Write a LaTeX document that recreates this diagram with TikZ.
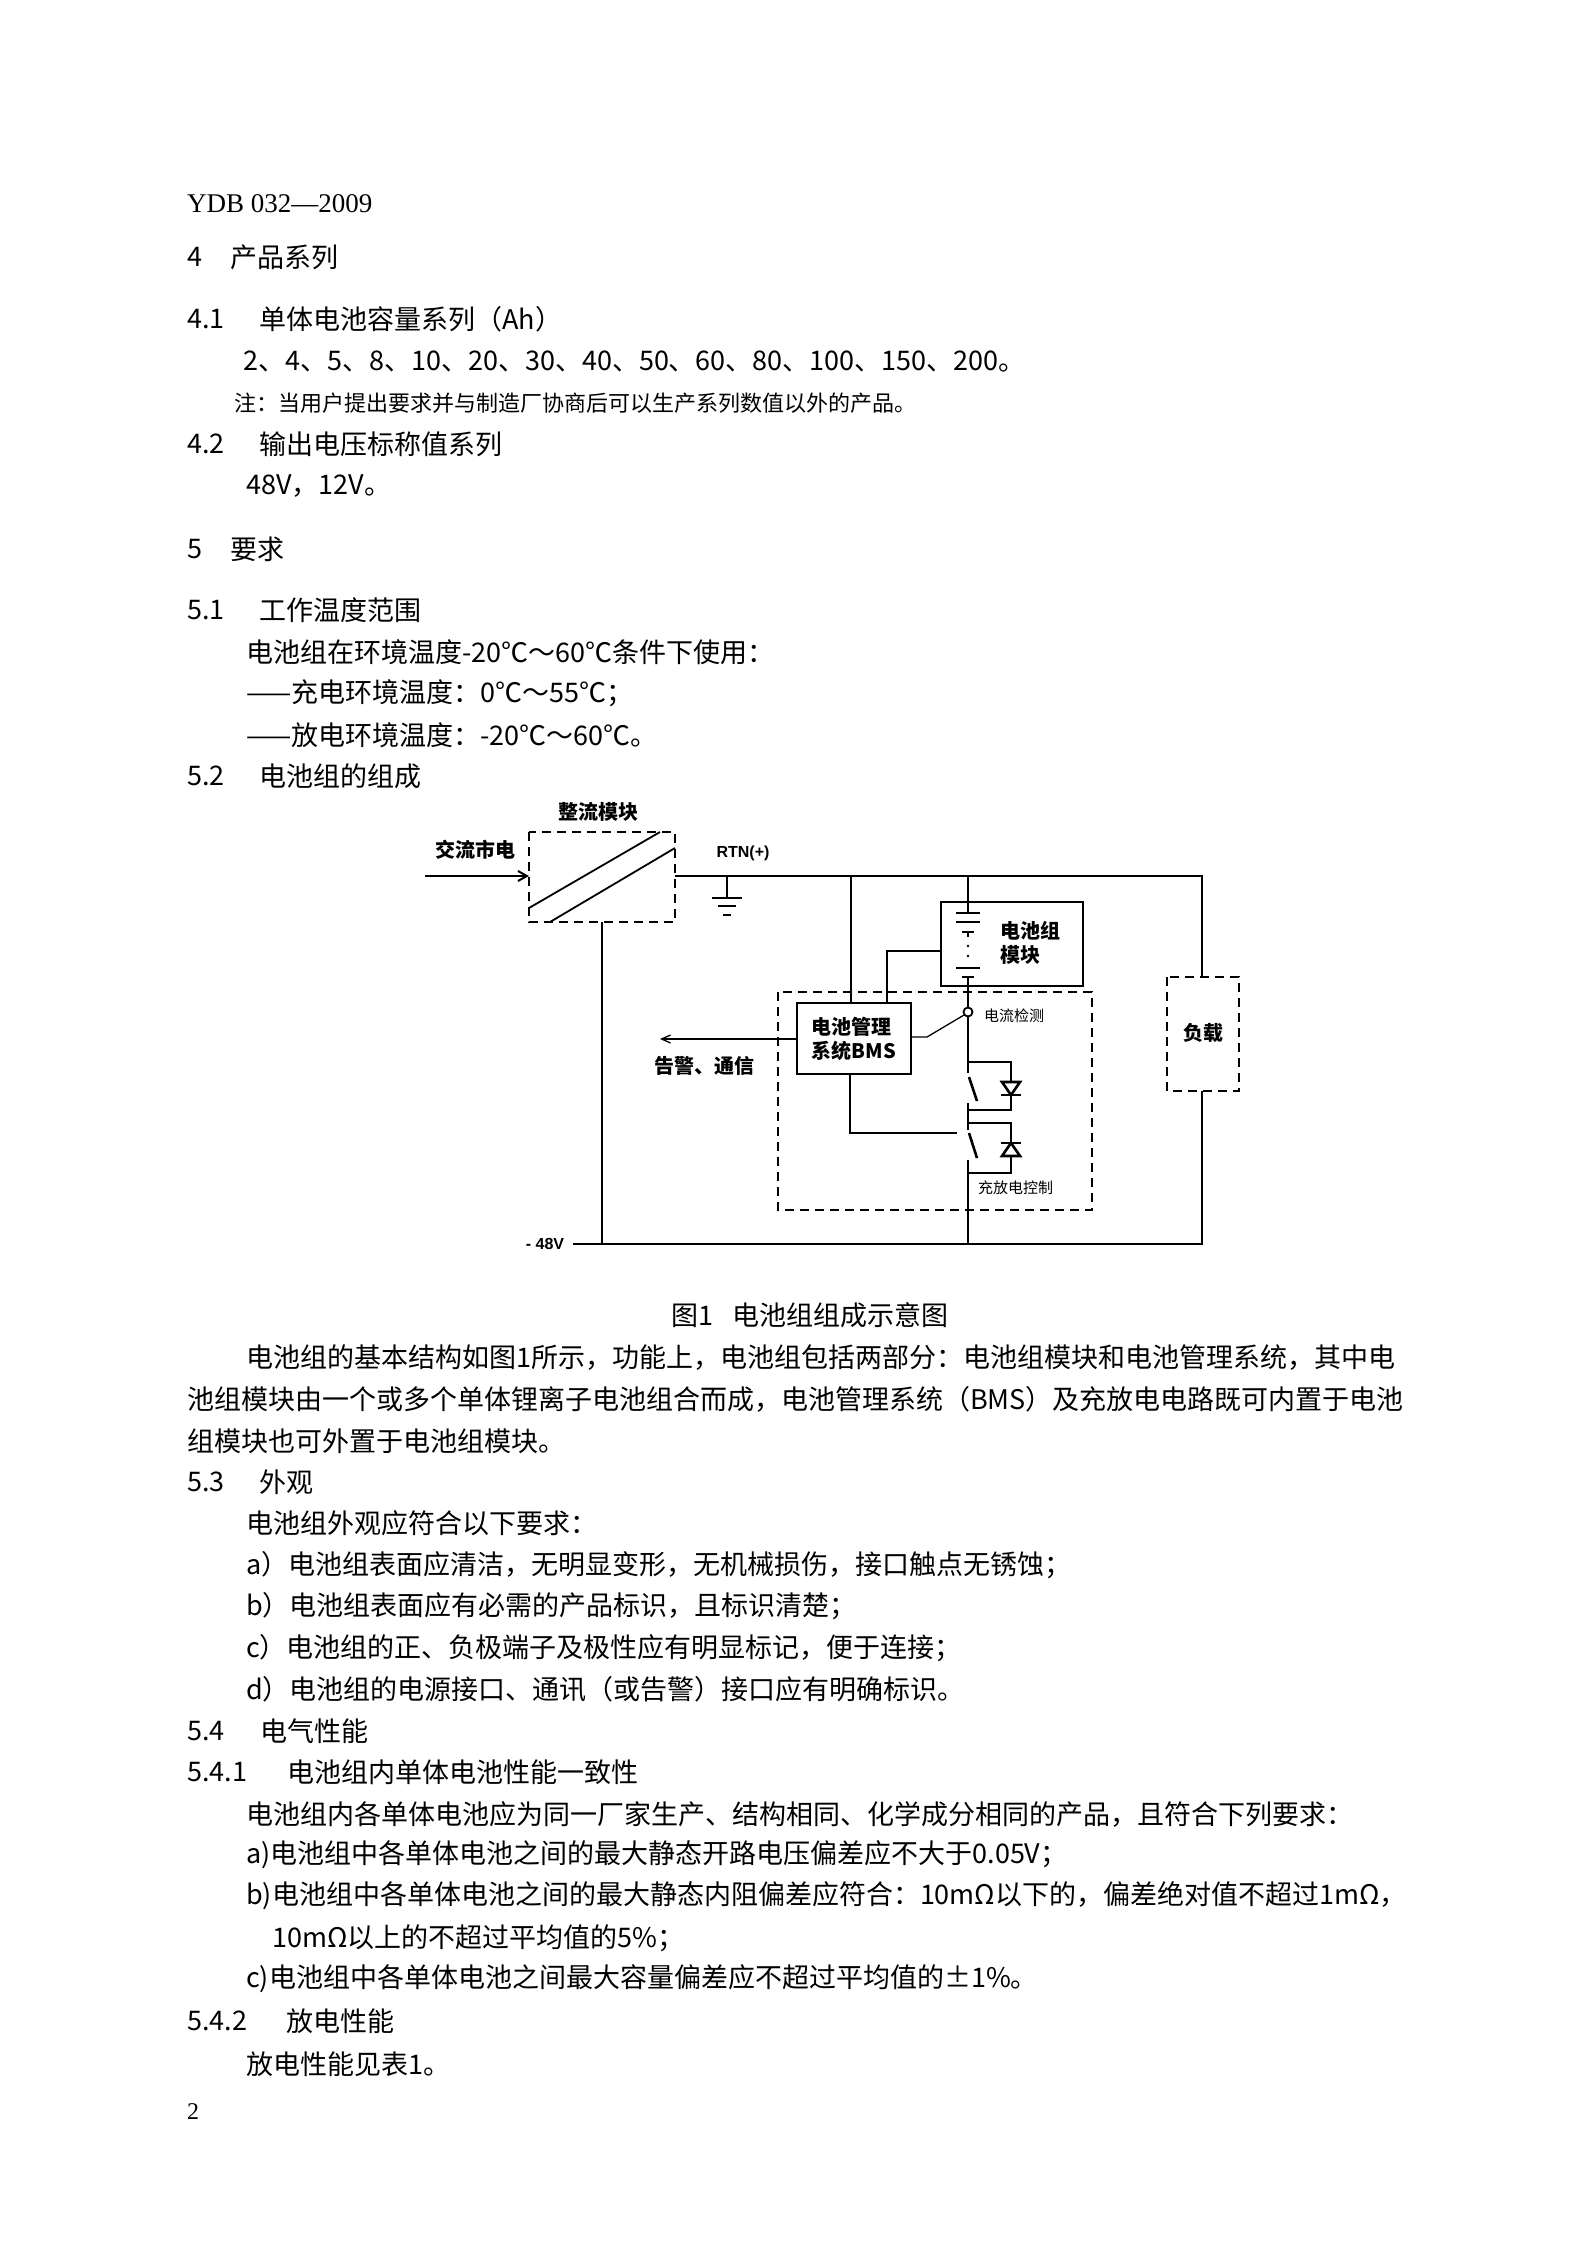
\documentclass[tikz,border=0pt]{standalone}
\usepackage{fontspec}
\setmainfont{Noto Sans CJK SC}
\newfontfamily\serifen{Liberation Serif}
\newfontfamily\sansen{Liberation Sans}
\usetikzlibrary{arrows.meta}
\begin{document}
\begin{tikzpicture}[x=1pt,y=-1pt,
  txt/.style={anchor=west,inner sep=0pt,font=\fontsize{27}{32}\selectfont},
  hd/.style={anchor=west,inner sep=0pt,font=\fontsize{27}{32}\selectfont},
  lab/.style={inner sep=0pt,font=\fontsize{20}{24}\selectfont\bfseries},
  small/.style={inner sep=0pt,font=\fontsize{15}{18}\selectfont},
  wire/.style={line width=2.6pt},
  thin/.style={line width=1.3pt},
  dbox/.style={line width=2.4pt,dash pattern=on 9pt off 6pt},
  sbox/.style={line width=2.4pt}]
\useasboundingbox (0,0) rectangle (1586,2244);
\fill[white] (0,0) rectangle (1586,2244);
% ---------- text ----------
\node[anchor=west,inner sep=0pt,font=\serifen\fontsize{27}{32}\selectfont] (hdr) at (187,204) {YDB 032—2009};
\node[hd] (h4n) at (187,257) {4}; \node[hd] (h4) at (230,257) {产品系列};
\node[hd] (h41n) at (187,319) {4.1}; \node[hd] (h41) at (259,319) {单体电池容量系列（Ah）};
\node[txt] (t1) at (243,362) {2、4、5、8、10、20、30、40、50、60、80、100、150、200。};
\node[anchor=west,inner sep=0pt,font=\fontsize{22}{26}\selectfont] (t2) at (234,403) {注：当用户提出要求并与制造厂协商后可以生产系列数值以外的产品。};
\node[hd] (h42n) at (187,444) {4.2}; \node[hd] (h42) at (259,444) {输出电压标称值系列};
\node[txt] (t3) at (246,486) {48V，12V。};
\node[hd] (h5n) at (187,549) {5}; \node[hd] (h5) at (230,549) {要求};
\node[hd] (h51n) at (187,610) {5.1}; \node[hd] (h51) at (259,610) {工作温度范围};
\node[txt] (t4) at (246,652) {电池组在环境温度-20℃～60℃条件下使用：};
\node[txt] (t5) at (246,693) {——充电环境温度：0℃～55℃；};
\node[txt] (t6) at (246,735) {——放电环境温度：-20℃～60℃。};
\node[hd] (h52n) at (187,776) {5.2}; \node[hd] (h52) at (259,776) {电池组的组成};
\node[inner sep=0pt,font=\fontsize{27}{32}\selectfont] (cap) at (810,1315) {图1\hspace{20pt}电池组组成示意图};
\node[txt] (p1) at (246,1358) {电池组的基本结构如图1所示，功能上，电池组包括两部分：电池组模块和电池管理系统，其中电};
\node[txt] (p2) at (187,1399) {池组模块由一个或多个单体锂离子电池组合而成，电池管理系统（BMS）及充放电电路既可内置于电池};
\node[txt] (p3) at (187,1441) {组模块也可外置于电池组模块。};
\node[hd] (h53n) at (187,1482) {5.3}; \node[hd] (h53) at (259,1482) {外观};
\node[txt] (q0) at (246,1523) {电池组外观应符合以下要求：};
\node[txt] (qa) at (246,1565) {a）电池组表面应清洁，无明显变形，无机械损伤，接口触点无锈蚀；};
\node[txt] (qb) at (246,1606) {b）电池组表面应有必需的产品标识，且标识清楚；};
\node[txt] (qc) at (246,1648) {c）电池组的正、负极端子及极性应有明显标记，便于连接；};
\node[txt] (qd) at (246,1689) {d）电池组的电源接口、通讯（或告警）接口应有明确标识。};
\node[hd] (h54n) at (187,1731) {5.4}; \node[hd] (h54) at (260,1731) {电气性能};
\node[hd] (h541n) at (187,1772) {5.4.1}; \node[hd] (h541) at (287,1772) {电池组内单体电池性能一致性};
\node[txt] (r0) at (246,1814) {电池组内各单体电池应为同一厂家生产、结构相同、化学成分相同的产品，且符合下列要求：};
\node[txt] (ra) at (246,1855) {a)电池组中各单体电池之间的最大静态开路电压偏差应不大于0.05V；};
\node[txt] (rb) at (246,1896) {b)电池组中各单体电池之间的最大静态内阻偏差应符合：10mΩ以下的，偏差绝对值不超过1mΩ，};
\node[txt] (rb2) at (272,1938) {10mΩ以上的不超过平均值的5\%；};
\node[txt] (rc) at (246,1979) {c)电池组中各单体电池之间最大容量偏差应不超过平均值的±1\%。};
\node[hd] (h542n) at (187,2021) {5.4.2}; \node[hd] (h542) at (286,2021) {放电性能};
\node[txt] (s0) at (246,2064) {放电性能见表1。};
\node[anchor=west,inner sep=0pt,font=\serifen\fontsize{24}{28}\selectfont] (pg) at (187,2112) {2};
% ---------- diagram ----------
\node[lab] (zl) at (598,812) {整流模块};
\draw[dbox] (529,832) rectangle (675,922);
\coordinate (rectIn) at (529,876);
\coordinate (rectOut) at (675,876);
\coordinate (rectBot) at (602,922);
\draw[line width=1.8pt] (529,908) -- (660,832);
\draw[line width=1.8pt] (550,922) -- (675,848);
\node[lab] (ac) at (475,850) {交流市电};
\coordinate (acIn) at (425,876);
\draw[line width=2pt,-{Straight Barb[length=9pt,width=10pt]}] (acIn) -- (rectIn);
\node[inner sep=0pt,font=\sansen\fontsize{16}{18}\selectfont\bfseries] (rtn) at (743,853) {RTN(+)};
\coordinate (gnd) at (727,876);
\draw[wire] (gnd) -- (727,898);
\draw[wire] (712,898) -- (742,898);
\draw[wire] (718,906) -- (736,906);
\draw[wire] (723,915) -- (731,915);
\coordinate (topR) at (1202,876);
\coordinate (botL) at (573,1244);
\coordinate (botR) at (1202,1244);
\draw[wire] (rectOut) -- (topR) -- (1202,977);
\draw[wire] (rectBot) -- (602,1244);
\draw[wire] (botL) -- (botR) -- (1202,1091);
\node[inner sep=0pt,font=\sansen\fontsize{16}{18}\selectfont\bfseries] (m48) at (545,1244) {- 48V};
\draw[dbox] (1167,977) rectangle (1239,1091);
\node[lab] (load) at (1203,1033) {负载};
\draw[sbox] (941,902) rectangle (1083,986);
\node[lab,align=left] (batt) at (1030,943) {电池组\\模块};
\draw[wire] (968,876) -- (968,913);
\draw[wire] (956,913) -- (980,913);
\draw[wire] (956,922) -- (980,922);
\draw[wire] (962,932) -- (974,932);
\draw[wire] (968,932) -- (968,937);
\fill (968,946) circle (1.3) (968,956) circle (1.3);
\draw[wire] (956,968) -- (980,968);
\draw[wire] (962,977) -- (974,977);
\draw[wire] (968,977) -- (968,1008);
\draw[dbox] (778,992) rectangle (1092,1210);
\draw[sbox,fill=white] (797,1003) rectangle (911,1074);
\node[lab,align=left] (bms) at (854,1039) {电池管理\\系统BMS};
\draw[thin] (851,876) -- (851,1003);
\draw[thin] (941,951) -- (887,951) -- (887,1003);
\draw[line width=1.8pt,fill=white] (968,1012) circle (4.5);
\draw[thin] (911,1037) -- (927,1037) -- (964,1015);
\node[small,anchor=west] (cur) at (984,1016) {电流检测};
\coordinate (alarm) at (660,1039);
\draw[thin,-{Straight Barb[length=9pt,width=8pt]}] (797,1039) -- (alarm);
\node[lab] (alm) at (704,1066) {告警、通信};
\draw[wire] (968,1016) -- (968,1073);
\draw[wire] (969,1077) -- (977,1101);
\draw[wire] (968,1103) -- (968,1130);
\draw[wire] (969,1133) -- (977,1158);
\draw[wire] (968,1160) -- (968,1244);
\draw[wire] (968,1062) -- (1011,1062) -- (1011,1110) -- (968,1110);
\draw[wire] (968,1123) -- (1011,1123) -- (1011,1173) -- (968,1173);
\draw[wire,fill=white,line join=miter] (1002,1082) -- (1020,1082) -- (1011,1095) -- cycle;
\draw[wire] (1001,1095) -- (1021,1095);
\draw[wire,fill=white,line join=miter] (1002,1156) -- (1020,1156) -- (1011,1143) -- cycle;
\draw[wire] (1001,1143) -- (1021,1143);
\draw[thin] (850,1074) -- (850,1133) -- (957,1133);
\node[small,anchor=west] (ctl) at (978,1188) {充放电控制};
\end{tikzpicture}
\end{document}
